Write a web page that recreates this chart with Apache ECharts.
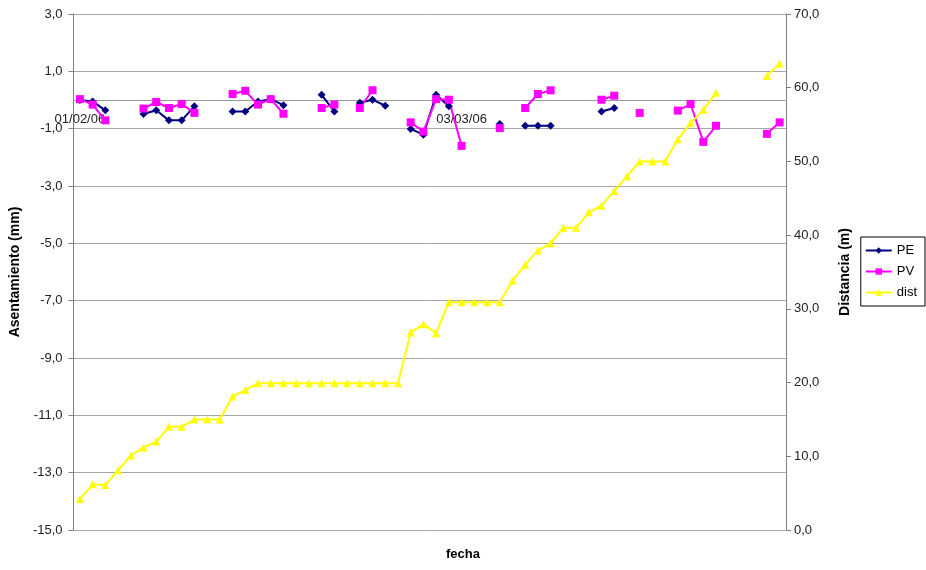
<!DOCTYPE html>
<html>
<head>
<meta charset="utf-8">
<script src="https://cdn.jsdelivr.net/npm/echarts@6/dist/echarts.min.js"></script>
<style>
html,body{margin:0;padding:0;background:#fff;}
#chart{width:926px;height:570px;}
</style>
</head>
<body>
<div id="chart"></div>
<script>
// Categories: one per day, 01/02/06 .. 28/03/06
const dates = [
"01/02/06","02/02/06","03/02/06","04/02/06","05/02/06","06/02/06","07/02/06","08/02/06","09/02/06","10/02/06",
"11/02/06","12/02/06","13/02/06","14/02/06","15/02/06","16/02/06","17/02/06","18/02/06","19/02/06","20/02/06",
"21/02/06","22/02/06","23/02/06","24/02/06","25/02/06","26/02/06","27/02/06","28/02/06","01/03/06","02/03/06",
"03/03/06","04/03/06","05/03/06","06/03/06","07/03/06","08/03/06","09/03/06","10/03/06","11/03/06","12/03/06",
"13/03/06","14/03/06","15/03/06","16/03/06","17/03/06","18/03/06","19/03/06","20/03/06","21/03/06","22/03/06",
"23/03/06","24/03/06","25/03/06","26/03/06","27/03/06","28/03/06"
];
const shownDateLabels = ["01/02/06","03/03/06"];

// Asentamiento (mm)
const PE = [
 0.00,-0.05,-0.36, null, null,-0.49,-0.36,-0.71,-0.71,-0.22,
 null, null,-0.40,-0.40,-0.05, 0.03,-0.18, null, null, 0.18,
-0.40, null,-0.10, 0.01,-0.20, null,-1.01,-1.21, 0.18,-0.22,
 null, null, null,-0.84, null,-0.90,-0.90,-0.90, null, null,
 null,-0.40,-0.28, null, null, null, null, null, null, null,
 null, null, null, null, null, null
];
const PV = [
 0.03,-0.16,-0.71, null, null,-0.30,-0.07,-0.28,-0.14,-0.45,
 null, null, 0.21, 0.32,-0.16, 0.03,-0.48, null, null,-0.28,
-0.16, null,-0.28, 0.34, null, null,-0.78,-1.10, 0.03, 0.01,
-1.60, null, null,-0.98, null,-0.28, 0.21, 0.34, null, null,
 null, 0.01, 0.15, null,-0.45, null, null,-0.37,-0.14,-1.46,
-0.90, null, null, null,-1.18,-0.78
];
// Distancia (m)
const dist = [
 4.2, 6.2, 6.1, 8.1,10.1,11.2,12.0,14.0,14.0,15.0,
15.0,15.0,18.1,19.0,19.9,19.9,19.9,19.9,19.9,19.9,
19.9,19.9,19.9,19.9,19.9,19.9,26.8,27.9,26.7,30.9,
30.9,30.9,30.9,30.9,33.8,36.0,37.9,38.9,41.0,41.0,
43.1,44.0,46.0,48.0,50.0,50.0,50.0,53.0,55.2,57.0,
59.3, null, null, null,61.6,63.3
];
const leftTicks = {min:-15, max:3, step:2};
const rightTicks = {min:0, max:70, step:10};

const FONT = '"Liberation Sans", Arial, sans-serif';
const fmt = v => v.toFixed(1).replace('.', ',');

const GRID = {left: 73, right: 140, top: 14, bottom: 40};
const plotH = 570 - GRID.top - GRID.bottom;
// category axis crosses the left value axis at 0
const xAxisOffset = -plotH * (0 - leftTicks.min) / (leftTicks.max - leftTicks.min);

const chart = echarts.init(document.getElementById('chart'), null, {renderer:'canvas'});
chart.setOption({
  animation: false,
  backgroundColor: '#fff',
  textStyle: {fontFamily: FONT},
  title: {
    text: 'fecha',
    left: 'center',
    top: 548,
    textStyle: {fontFamily: FONT, fontSize: 13, fontWeight: 'bold', color: '#000'},
    padding: 0
  },
  grid: Object.assign({containLabel: false}, GRID),
  legend: {
    orient: 'vertical',
    right: 1,
    top: 237,
    borderColor: '#000',
    borderWidth: 1,
    padding: [7, 8, 7, 4],
    itemGap: 8,
    itemWidth: 26,
    itemHeight: 8,
    textStyle: {fontFamily: FONT, fontSize: 13, color: '#000'},
    data: ['PE', 'PV', 'dist']
  },
  xAxis: {
    type: 'category',
    data: dates,
    boundaryGap: true,
    position: 'bottom',
    offset: xAxisOffset,
    axisLine: {onZero: false, lineStyle: {color: '#999', width: 1}},
    axisTick: {show: false},
    axisLabel: {
      interval: (i, v) => shownDateLabels.indexOf(v) >= 0,
      margin: 13,
      fontFamily: FONT, fontSize: 13, color: '#222'
    },
    splitLine: {show: false}
  },
  yAxis: [
    {
      type: 'value',
      min: leftTicks.min, max: leftTicks.max, interval: leftTicks.step,
      name: 'Asentamiento (mm)',
      nameLocation: 'middle',
      nameGap: 48,
      nameTextStyle: {fontFamily: FONT, fontSize: 14, fontWeight: 'bold', color: '#000'},
      axisLine: {show: true, lineStyle: {color: '#808080', width: 1}},
      axisTick: {show: true, length: 5, lineStyle: {color: '#808080'}},
      axisLabel: {formatter: fmt, margin: 11, fontFamily: FONT, fontSize: 13, color: '#222'},
      splitLine: {show: true, lineStyle: {color: '#a6a6a6', width: 1}}
    },
    {
      type: 'value',
      position: 'right',
      min: rightTicks.min, max: rightTicks.max, interval: rightTicks.step,
      name: 'Distancia (m)',
      nameLocation: 'middle',
      nameGap: 52,
      nameRotate: 90,
      nameTextStyle: {fontFamily: FONT, fontSize: 14, fontWeight: 'bold', color: '#000'},
      axisLine: {show: true, lineStyle: {color: '#808080', width: 1}},
      axisTick: {show: true, length: 5, lineStyle: {color: '#808080'}},
      axisLabel: {formatter: fmt, margin: 8, fontFamily: FONT, fontSize: 13, color: '#222'},
      splitLine: {show: false}
    }
  ],
  series: [
    {
      name: 'PE', type: 'line', yAxisIndex: 0, data: PE,
      symbol: 'diamond', symbolSize: 8, showAllSymbol: true, connectNulls: false,
      itemStyle: {color: '#000080'}, lineStyle: {color: '#000080', width: 2}
    },
    {
      name: 'PV', type: 'line', yAxisIndex: 0, data: PV,
      symbol: 'rect', symbolSize: 8, showAllSymbol: true, connectNulls: false,
      itemStyle: {color: '#FF00FF'}, lineStyle: {color: '#FF00FF', width: 2}
    },
    {
      name: 'dist', type: 'line', yAxisIndex: 1, data: dist,
      symbol: 'triangle', symbolSize: 8, showAllSymbol: true, connectNulls: false,
      itemStyle: {color: '#FFFF00'}, lineStyle: {color: '#FFFF00', width: 2}
    }
  ]
});
</script>
</body>
</html>
